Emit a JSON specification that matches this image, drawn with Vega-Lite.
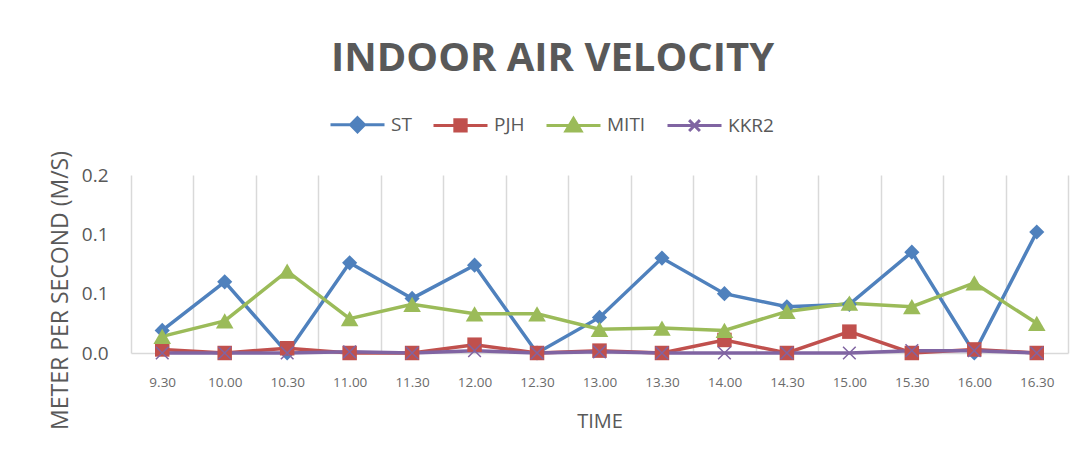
{
"$schema": "https://vega.github.io/schema/vega-lite/v6.json",
"width": 937,
"height": 178,
"autosize": {"type": "none"},
"padding": {"left": 131, "top": 175, "right": 21, "bottom": 111},
"background": "white",
"config": {"view": {"stroke": null}},
"title": {"text": "INDOOR AIR VELOCITY", "font": "Open Sans", "fontSize": 40, "fontWeight": "bold", "color": "#595959", "anchor": "middle", "dx": -47, "offset": 17},
"data": {"values": [
{"t":"9.30","s":"ST","v":0.019},{"t":"10.00","s":"ST","v":0.060},{"t":"10.30","s":"ST","v":0.000},{"t":"11.00","s":"ST","v":0.076},{"t":"11.30","s":"ST","v":0.046},{"t":"12.00","s":"ST","v":0.074},{"t":"12.30","s":"ST","v":0.000},{"t":"13.00","s":"ST","v":0.030},{"t":"13.30","s":"ST","v":0.080},{"t":"14.00","s":"ST","v":0.050},{"t":"14.30","s":"ST","v":0.039},{"t":"15.00","s":"ST","v":0.041},{"t":"15.30","s":"ST","v":0.085},{"t":"16.00","s":"ST","v":0.000},{"t":"16.30","s":"ST","v":0.102},
{"t":"9.30","s":"PJH","v":0.003},{"t":"10.00","s":"PJH","v":0.000},{"t":"10.30","s":"PJH","v":0.004},{"t":"11.00","s":"PJH","v":0.000},{"t":"11.30","s":"PJH","v":0.000},{"t":"12.00","s":"PJH","v":0.007},{"t":"12.30","s":"PJH","v":0.000},{"t":"13.00","s":"PJH","v":0.002},{"t":"13.30","s":"PJH","v":0.000},{"t":"14.00","s":"PJH","v":0.011},{"t":"14.30","s":"PJH","v":0.000},{"t":"15.00","s":"PJH","v":0.018},{"t":"15.30","s":"PJH","v":0.000},{"t":"16.00","s":"PJH","v":0.003},{"t":"16.30","s":"PJH","v":0.000},
{"t":"9.30","s":"MITI","v":0.014},{"t":"10.00","s":"MITI","v":0.027},{"t":"10.30","s":"MITI","v":0.069},{"t":"11.00","s":"MITI","v":0.029},{"t":"11.30","s":"MITI","v":0.041},{"t":"12.00","s":"MITI","v":0.033},{"t":"12.30","s":"MITI","v":0.033},{"t":"13.00","s":"MITI","v":0.020},{"t":"13.30","s":"MITI","v":0.021},{"t":"14.00","s":"MITI","v":0.019},{"t":"14.30","s":"MITI","v":0.035},{"t":"15.00","s":"MITI","v":0.042},{"t":"15.30","s":"MITI","v":0.039},{"t":"16.00","s":"MITI","v":0.059},{"t":"16.30","s":"MITI","v":0.025},
{"t":"9.30","s":"KKR2","v":0.000},{"t":"10.00","s":"KKR2","v":0.000},{"t":"10.30","s":"KKR2","v":0.000},{"t":"11.00","s":"KKR2","v":0.001},{"t":"11.30","s":"KKR2","v":0.000},{"t":"12.00","s":"KKR2","v":0.002},{"t":"12.30","s":"KKR2","v":0.000},{"t":"13.00","s":"KKR2","v":0.001},{"t":"13.30","s":"KKR2","v":0.000},{"t":"14.00","s":"KKR2","v":0.000},{"t":"14.30","s":"KKR2","v":0.000},{"t":"15.00","s":"KKR2","v":0.000},{"t":"15.30","s":"KKR2","v":0.002},{"t":"16.00","s":"KKR2","v":0.002},{"t":"16.30","s":"KKR2","v":0.000}
]},
"encoding": {
"x": {"field": "t", "type": "ordinal", "sort": null, "bandPosition": 0.5,
  "scale": {"type": "band", "paddingInner": 0, "paddingOuter": 0},
  "axis": {"grid": true, "gridColor": "#d9d9d9", "gridWidth": 1.5, "tickBand": "extent", "ticks": false, "domain": true, "domainColor": "#d9d9d9", "domainWidth": 1.5, "labelAngle": 0, "labelFont": "Open Sans", "labelFontSize": 13.5, "labelColor": "#6b6b6b", "labelPadding": 22, "title": "TIME", "titleFont": "Open Sans", "titleFontSize": 20, "titleFontWeight": "normal", "titleColor": "#595959", "titlePadding": 23}},
"y": {"field": "v", "type": "quantitative",
  "scale": {"domain": [0, 0.15], "nice": false, "zero": true},
  "axis": {"values": [0, 0.05, 0.1, 0.15], "labelExpr": "format(round(datum.value*10+0.000001)/10, '.1f')", "grid": false, "domain": false, "ticks": false, "labelFont": "Open Sans", "labelFontSize": 19, "labelColor": "#595959", "labelPadding": 23, "title": "METER PER SECOND (M/S)", "titleFont": "Open Sans", "titleFontSize": 23, "titleFontWeight": "normal", "titleColor": "#595959", "titleAngle": -90, "titleX": -71, "titleY": 115, "titleAlign": "center", "titleBaseline": "middle"}},
"color": {"field": "s", "type": "nominal",
  "scale": {"domain": ["ST", "PJH", "MITI", "KKR2"], "range": ["#4f81bd", "#c0504d", "#9bbb59", "#8064a2"]},
  "legend": {"orient": "none", "legendX": 198, "legendY": -79, "direction": "horizontal", "title": null, "symbolSize": 2916, "symbolStrokeWidth": 3, "labelFont": "Open Sans", "labelFontSize": 19, "labelColor": "#595959", "labelOffset": 5, "columnPadding": 15,
    "encode": {"symbols": {"update": {
      "shape": {"signal": "datum.value === 'ST' ? 'M-1,0L1,0M0,-0.26L0.26,0L0,0.26L-0.26,0Z' : datum.value === 'PJH' ? 'M-1,0L1,0M-0.21,-0.21L0.21,-0.21L0.21,0.21L-0.21,0.21Z' : datum.value === 'MITI' ? 'M-1,0L1,0M-0.28,0.21L0,-0.26L0.28,0.21Z' : 'M-1,0L1,0M-0.2,-0.2L0.2,0.2M0.2,-0.2L-0.2,0.2'"},
      "fill": {"scale": "color", "field": "value"},
      "stroke": {"scale": "color", "field": "value"},
      "strokeWidth": {"value": 3},
      "opacity": {"value": 1}
    }}}}}
},
"layer": [
{"mark": {"type": "line", "strokeWidth": 3.5}},
{"transform": [{"filter": "datum.s === 'ST'"}], "mark": {"type": "point", "shape": "diamond", "filled": true, "opacity": 1, "size": 230}},
{"transform": [{"filter": "datum.s === 'PJH'"}], "mark": {"type": "point", "shape": "square", "filled": true, "opacity": 1, "size": 210}},
{"transform": [{"filter": "datum.s === 'MITI'"}], "mark": {"type": "point", "shape": "triangle-up", "filled": true, "opacity": 1, "size": 310}},
{"transform": [{"filter": "datum.s === 'KKR2'"}], "mark": {"type": "point", "shape": "M-1,-1L1,1M1,-1L-1,1", "filled": false, "opacity": 1, "size": 160, "strokeWidth": 1.5}}
]
}
